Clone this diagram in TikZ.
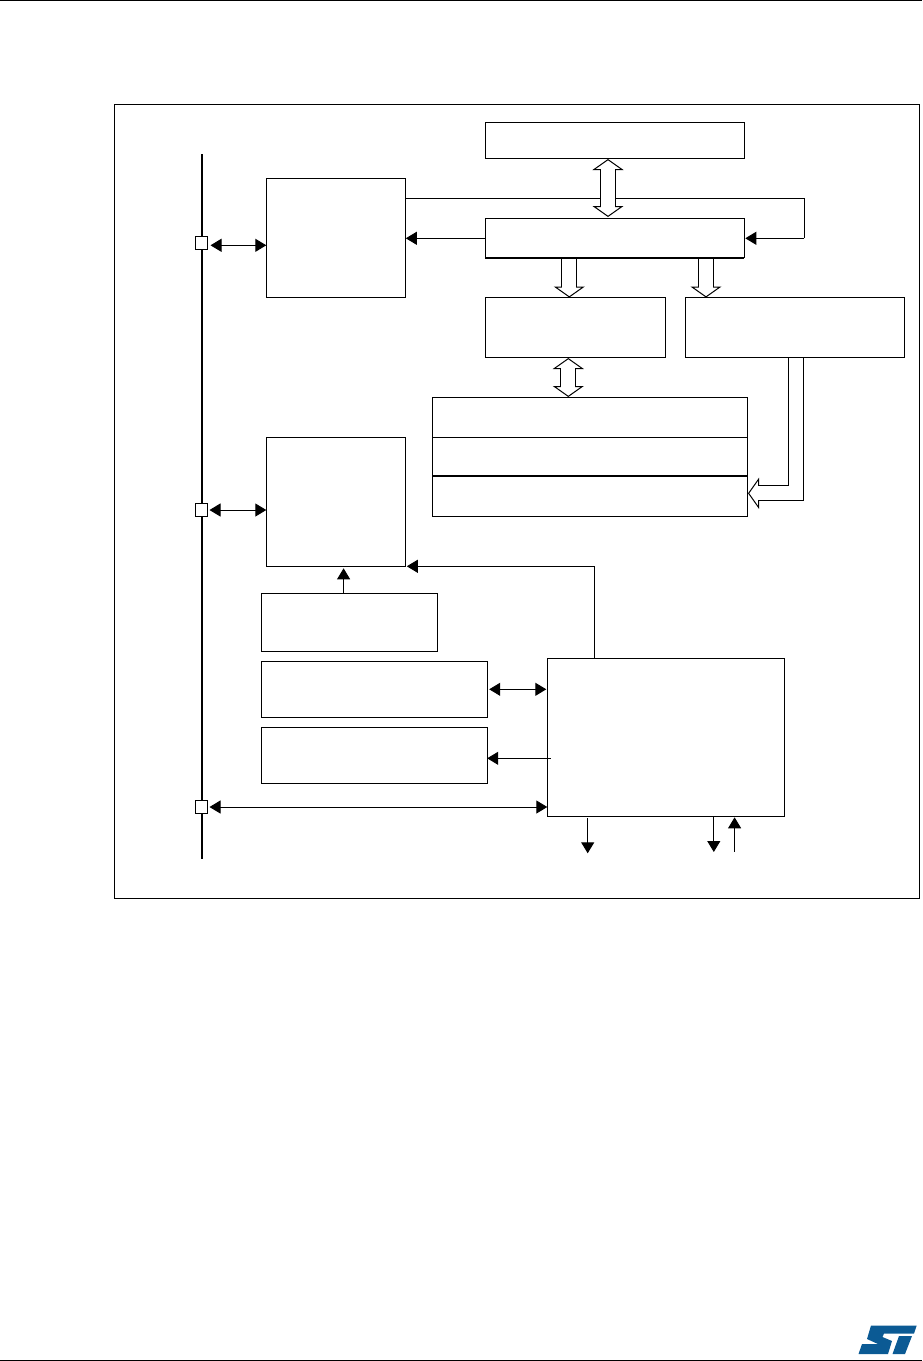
\documentclass[tikz,border=0pt]{standalone}
\usetikzlibrary{positioning,arrows.meta,backgrounds}
\definecolor{stblue}{HTML}{0B5A94}

\begin{document}
\begin{tikzpicture}[x=1pt, y=-1pt, line width=1pt,
  box/.style 2 args={draw, anchor=north west, inner sep=0pt, outer sep=0pt, minimum width=#1pt, minimum height=#2pt},
  port/.style={draw, fill=white, inner sep=0pt, outer sep=0pt, minimum width=12pt, minimum height=13pt},
  arr/.style={-{Triangle[length=11pt, width=13pt]}},
  dbl/.style={{Triangle[length=11pt, width=13pt]}-{Triangle[length=11pt, width=13pt]}},
  head/.tip={Triangle[open, black, fill=white, length=11pt, width=31pt, line width=1pt]},
  hollow/.style={preaction={draw, -, line width=16pt, shorten >=10pt}, draw=white, line width=14pt, -{head},
    postaction={draw=white, line width=14pt, -, shorten >=9.5pt}},
  hollowdbl/.style={preaction={draw, -, line width=16pt, shorten >=10pt, shorten <=10pt}, draw=white, line width=14pt, {head}-{head},
    postaction={draw=white, line width=14pt, -, shorten >=9.5pt, shorten <=9.5pt}}]
\useasboundingbox (0,0) rectangle (922,1361);
% page rules and frame
\coordinate (ruleatl) at (0,0.5);
\coordinate (ruleatr) at (922,0.5);
\coordinate (rulebl) at (0,1360);
\coordinate (rulebr) at (922,1360);
\draw (ruleatl) -- (ruleatr);
\draw (rulebl) -- (rulebr);
\node[box={805}{794}] (frame) at (114.3,104.3) {};
% upper blocks
\node[box={259}{36}] (membox) at (485.3,122.5) {};
\node[box={259}{39.5}] (ctrlbox) at (485.3,218.3) {};
\node[box={139.5}{119}] (regbox) at (266.3,178.3) {};
\node[box={180}{60}] (decbox) at (485.3,297.3) {};
\node[box={219}{60}] (drvbox) at (685.3,297.3) {};
\node[box={315.3}{40}] (stacka) at (432,397.3) {};
\node[box={315.3}{38.4}] (stackb) at (432,437.3) {};
\node[box={315.3}{40.3}] (stackc) at (432,475.7) {};
\draw[line width=2pt] (ctrlbox.south west) -- (ctrlbox.south east);
\draw[line width=2pt] (stackc.north west) -- (stackc.north east);
% lower blocks
\node[box={139.5}{129.3}] (databox) at (266.3,437) {};
\node[box={176.2}{58}] (smallbox) at (261.6,593.3) {};
\node[box={225.6}{56}] (boxb) at (261.6,661.3) {};
\node[box={225.6}{56}] (boxc) at (261.6,727.3) {};
\node[box={237.5}{158}] (bigbox) at (547.3,658.3) {};
% bus with ports
\coordinate (bustop) at (202,154);
\coordinate (busend) at (202,859);
\draw[line width=2pt] (bustop) -- (busend);
\node[port] (porta) at (201.5,243) {};
\node[port] (portb) at (201.5,510) {};
\node[port] (portc) at (201.5,807) {};
\draw[dbl] ([xshift=3pt,yshift=-2.3pt]porta.east) -- ([yshift=-2.3pt]porta.east -| regbox.west);
\draw[dbl] ([xshift=2pt]portb.east) -- (portb.east -| databox.west);
\draw[dbl] ([xshift=2pt]portc.east) -- (portc.east -| bigbox.west);
% thin connectors
\coordinate (loopa) at (regbox.north east |- 0,198.3);
\coordinate (loopb) at (804.3,198.3);
\coordinate (loopc) at (804.3,238.3);
\coordinate (ctrlin) at (ctrlbox.east |- loopc);
\coordinate (ctrlout) at (ctrlbox.west |- loopc);
\draw[arr] (ctrlout) -- (ctrlout -| regbox.east);
\draw[arr] (loopc) -- ([xshift=1pt]ctrlin);
\draw[arr] (smallbox.north -| 343.6,0) -- (343.6,568.3);
\draw[arr] (bigbox.north -| 594.6,0) |- ([xshift=1pt]databox.south east);
\draw[dbl] ([xshift=2pt]boxb.east) -- ([xshift=-1pt]boxb.east -| bigbox.west);
\draw[arr] ([xshift=3.5pt,yshift=-3pt]bigbox.west |- boxc.east) -- ([yshift=-3pt]boxc.east);
\coordinate (outa) at (587.7,853.3);
\coordinate (outb) at (713.8,852);
\coordinate (inc) at (734.6,851.7);
\draw[arr] ([yshift=-2pt]outa |- bigbox.south) -- (outa);
\draw[arr] (outb |- bigbox.south) -- (outb);
\draw[arr] (inc) -- ([yshift=-1pt]inc |- bigbox.south);
\begin{scope}[on background layer]
\draw (loopa) -- (loopb) -- (loopc);
\draw[hollowdbl] (608,159) -- (608,217);
\draw[hollowdbl] (568.3,358) -- (568.3,397);
\draw[hollow] (ctrlbox.south -| 569.3,0) -- (569.3,297.5);
\draw[hollow] (ctrlbox.south -| 706,0) -- (706,297.5);
\draw[hollow] (drvbox.south -| 795.8,0) |- (748,493.3);
\end{scope}
% logo
\fill[stblue] (871,1325.5) -- (916.7,1325.5) -- (914,1333.5) -- (884,1333.5) -- (882.5,1337) -- (892,1341) -- (888,1354) -- (858.5,1354) -- (862,1344) -- (878,1344) -- (867,1339) -- cycle;
\fill[stblue] (899,1336) -- (912,1336) -- (905,1354) -- (892.5,1354) -- cycle;
\end{tikzpicture}
\end{document}
